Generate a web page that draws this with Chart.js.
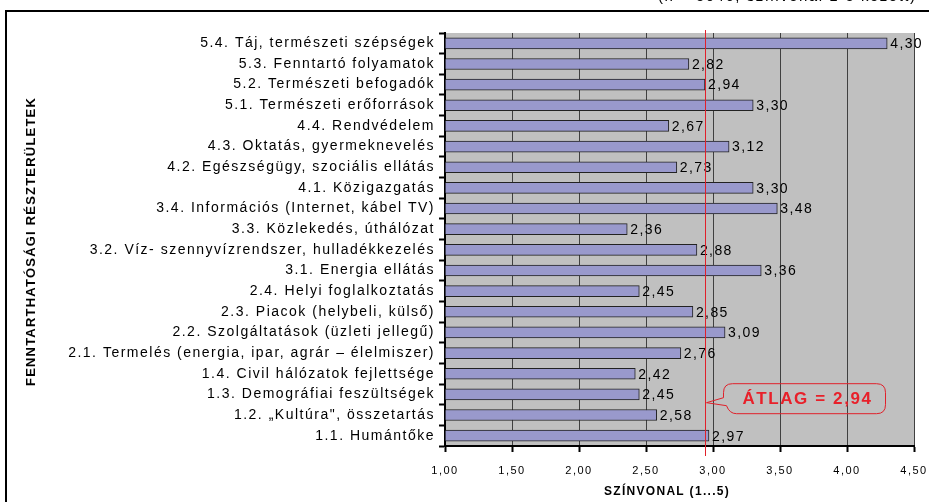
<!DOCTYPE html>
<html>
<head>
<meta charset="utf-8">
<script src="https://cdn.jsdelivr.net/npm/chart.js@4.4.1/dist/chart.umd.min.js"></script>
<style>
  html, body { margin: 0; padding: 0; background: #fff; }
  #wrap { width: 929px; height: 502px; }
</style>
</head>
<body>
<div id="wrap"><canvas id="myChart"></canvas></div>
<script>
// categories, top to bottom
var categories = [
    '5.4. Táj, természeti szépségek',
    '5.3. Fenntartó folyamatok',
    '5.2. Természeti befogadók',
    '5.1. Természeti erőforrások',
    '4.4. Rendvédelem',
    '4.3. Oktatás, gyermeknevelés',
    '4.2. Egészségügy, szociális ellátás',
    '4.1. Közigazgatás',
    '3.4. Információs (Internet, kábel TV)',
    '3.3. Közlekedés, úthálózat',
    '3.2. Víz- szennyvízrendszer, hulladékkezelés',
    '3.1. Energia ellátás',
    '2.4. Helyi foglalkoztatás',
    '2.3. Piacok (helybeli, külső)',
    '2.2. Szolgáltatások (üzleti jellegű)',
    '2.1. Termelés (energia, ipar, agrár – élelmiszer)',
    '1.4. Civil hálózatok fejlettsége',
    '1.3. Demográfiai feszültségek',
    '1.2. „Kultúra", összetartás',
    '1.1. Humántőke'
];
var values = [4.30, 2.82, 2.94, 3.30, 2.67, 3.12, 2.73, 3.30, 3.48, 2.36,
              2.88, 3.36, 2.45, 2.85, 3.09, 2.76, 2.42, 2.45, 2.58, 2.97];
var average = 2.94;
var axisMin = 1, axisMax = 4.5, axisStep = 0.5;
var avgText = 'ÁTLAG = 2,94';
var xTitle = 'SZÍNVONAL (1...5)';
var yTitle = 'FENNTARTHATÓSÁGI RÉSZTERÜLETEK';
var noteText = '(n = 5046; színvonal 1-5 között)';

var FONT = '"Liberation Sans", Arial, sans-serif';

function fmt(v) {
    return v.toFixed(2).replace('.', ',');
}

// spacing out the letters like the original
var spacingPlugin = {
    id: 'spacing',
    beforeUpdate: function (chart) { chart.ctx.letterSpacing = '1.5px'; },
    beforeDraw: function (chart) { chart.ctx.letterSpacing = '1.5px'; }
};

var decoPlugin = {
    id: 'deco',
    beforeDraw: function (chart) {
        var ctx = chart.ctx, a = chart.chartArea;
        ctx.save();
        ctx.fillStyle = '#fff';
        ctx.fillRect(0, 0, chart.width, chart.height);
        // grey plot area
        ctx.fillStyle = '#C0C0C0';
        ctx.fillRect(a.left, a.top, a.right - a.left, a.bottom - a.top);
        // outer frame
        ctx.strokeStyle = '#000';
        ctx.lineWidth = 2;
        ctx.strokeRect(6, 11, 1000, 1000);
        // note at the top (cut off)
        ctx.fillStyle = '#000';
        ctx.font = '15px ' + FONT;
        ctx.letterSpacing = '1.5px';
        ctx.textAlign = 'left';
        ctx.textBaseline = 'alphabetic';
        ctx.fillText(noteText, 658, 1);
        ctx.restore();
    },
    afterDatasetsDraw: function (chart) {
        var ctx = chart.ctx, a = chart.chartArea;
        var xs = chart.scales.x, ys = chart.scales.y;
        var meta = chart.getDatasetMeta(0);
        ctx.save();
        // value labels
        ctx.fillStyle = '#000';
        ctx.font = '14px ' + FONT;
        ctx.letterSpacing = '1.4px';
        ctx.textAlign = 'left';
        ctx.textBaseline = 'middle';
        meta.data.forEach(function (bar, i) {
            ctx.fillText(fmt(values[i]), bar.x + 3, bar.y + 1);
        });

        // average line
        var px = Math.round(xs.getPixelForValue(average)) + 0.5;
        ctx.strokeStyle = '#E0202A';
        ctx.lineWidth = 1;
        ctx.beginPath();
        ctx.moveTo(px, a.top - 3);
        ctx.lineTo(px, a.bottom + 10);
        ctx.stroke();

        // callout
        var tipY = (ys.getPixelForValue(17) + ys.getPixelForValue(18)) / 2 - 2;
        var bx = px + 18, by = tipY - 19, bw = 162, bh = 30, r = 9;
        ctx.beginPath();
        ctx.moveTo(bx + r, by);
        ctx.lineTo(bx + bw - r, by);
        ctx.quadraticCurveTo(bx + bw, by, bx + bw, by + r);
        ctx.lineTo(bx + bw, by + bh - r);
        ctx.quadraticCurveTo(bx + bw, by + bh, bx + bw - r, by + bh);
        ctx.lineTo(bx + r + 4, by + bh);
        ctx.quadraticCurveTo(bx + 6, by + bh, bx + 3, by + bh - 8);
        ctx.lineTo(px + 1, tipY);
        ctx.lineTo(bx, by + 14);
        ctx.lineTo(bx, by + r);
        ctx.quadraticCurveTo(bx, by, bx + r, by);
        ctx.closePath();
        ctx.strokeStyle = '#E0202A';
        ctx.stroke();
        ctx.fillStyle = '#E8202A';
        ctx.font = 'bold 17px ' + FONT;
        ctx.letterSpacing = '1.6px';
        ctx.textAlign = 'center';
        ctx.fillText(avgText, bx + bw / 2 + 3, by + bh / 2 + 1);

        // axis titles
        ctx.fillStyle = '#000';
        ctx.font = 'bold 12px ' + FONT;
        ctx.letterSpacing = '1.3px';
        ctx.textAlign = 'center';
        ctx.fillText(xTitle, 667, 492);
        ctx.font = 'bold 13px ' + FONT;
        ctx.letterSpacing = '1.2px';
        ctx.translate(31, (a.top + a.bottom) / 2 + 2);
        ctx.rotate(-Math.PI / 2);
        ctx.fillText(yTitle, 0, 0);
        ctx.restore();
    }
};

var myChart = document.getElementById('myChart');
var ctx = myChart.getContext('2d');
var chart = new Chart(ctx, {
    type: 'bar',
    data: {
        labels: categories,
        datasets: [{
            data: values,
            base: axisMin,
            backgroundColor: '#9999CC',
            borderColor: '#222',
            borderWidth: 1,
            barThickness: 11
        }]
    },
    options: {
        indexAxis: 'y',
        responsive: true,
        maintainAspectRatio: false,
        animation: false,
        layout: {
            padding: { top: 33, right: 15, left: 0, bottom: 0 }
        },
        plugins: {
            legend: { display: false },
            tooltip: { enabled: false }
        },
        scales: {
            x: {
                type: 'linear',
                min: axisMin,
                max: axisMax,
                afterFit: function (s) {
                    s.height = 56;
                    s.paddingLeft = 0;
                    s.paddingRight = 0;
                },
                ticks: {
                    stepSize: axisStep,
                    color: '#000',
                    padding: 12,
                    font: { family: FONT, size: 11 },
                    callback: function (v) { return fmt(v); }
                },
                grid: {
                    color: '#404040',
                    lineWidth: 1,
                    drawTicks: true,
                    tickLength: 6,
                    tickColor: '#000',
                    tickWidth: 2
                },
                border: { display: true, color: '#000', width: 2 }
            },
            y: {
                afterFit: function (s) { s.width = 445; },
                ticks: {
                    color: '#000',
                    padding: 4,
                    autoSkip: false,
                    font: { family: FONT, size: 14 }
                },
                grid: {
                    offset: true,
                    drawOnChartArea: false,
                    drawTicks: true,
                    tickLength: 6,
                    tickColor: '#000',
                    tickWidth: 2
                },
                border: { display: true, color: '#000', width: 2 }
            }
        }
    },
    plugins: [spacingPlugin, decoPlugin]
});
</script>
</body>
</html>
